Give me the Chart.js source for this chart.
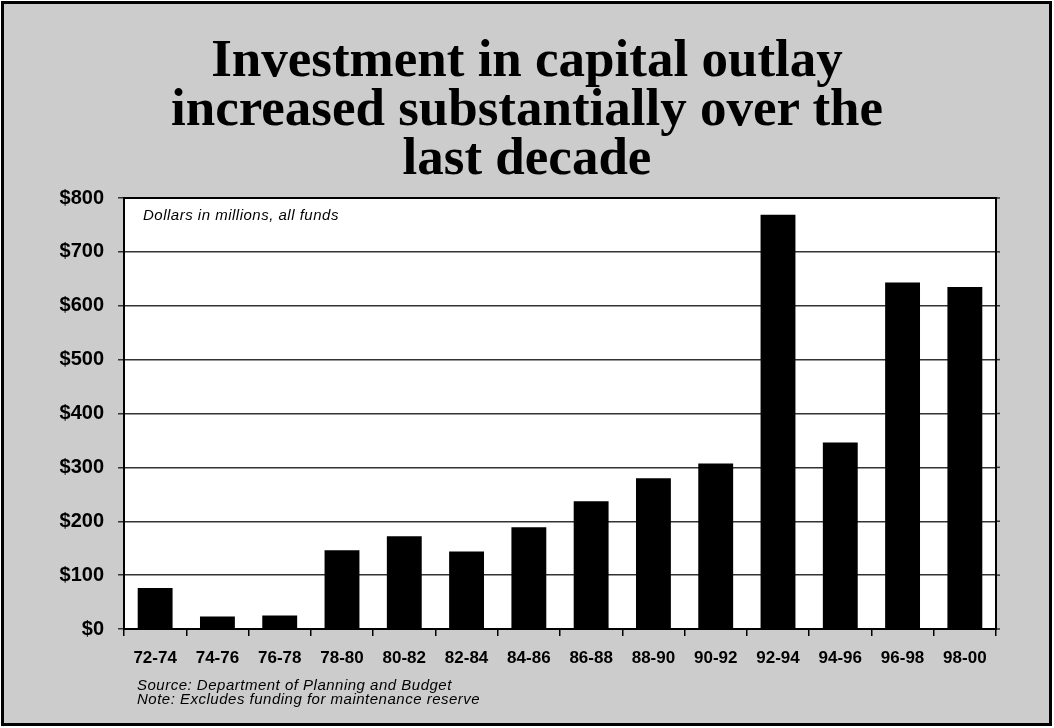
<!DOCTYPE html>
<html>
<head>
<meta charset="utf-8">
<script src="https://cdn.jsdelivr.net/npm/chart.js@4"></script>
<style>
  html, body { margin: 0; padding: 0; background: #fff; }
  #page { position: relative; width: 1054px; height: 728px; overflow: hidden; }
  #frame { position: absolute; left: 1px; top: 1px; width: 1051px; height: 725px;
    box-sizing: border-box; border: 3px solid #000; background: #cccccc; }
  #title { position: absolute; left: 0; top: 34px; width: 1054px; text-align: center;
    font-family: "Liberation Serif", "Times New Roman", serif; font-weight: bold;
    font-size: 53px; line-height: 49px; color: #000; }
  .note { position: absolute; font-family: "Liberation Sans", Arial, sans-serif;
    font-style: italic; font-size: 15px; letter-spacing: 0.5px; color: #000; white-space: nowrap; }
  #unit { left: 143px; top: 206px; }
  #src { left: 137px; top: 678px; line-height: 14px; }
  canvas { position: absolute; left: 0; top: 0; }
</style>
</head>
<body>
<div id="page">
  <div id="frame"></div>
  <canvas id="myChart" width="1054" height="728"></canvas>
  <div id="title">Investment in capital outlay<br>increased substantially over the<br>last decade</div>
  <div class="note" id="unit">Dollars in millions, all funds</div>
  <div class="note" id="src">Source: Department of Planning and Budget<br>Note: Excludes funding for maintenance reserve</div>
</div>
<script>
(() => {

  const periods = ['72-74', '74-76', '76-78', '78-80', '80-82', '82-84', '84-86',
    '86-88', '88-90', '90-92', '92-94', '94-96', '96-98', '98-00'];
  const outlay = [76, 23, 25, 146, 172, 144, 189, 237, 280, 307, 769, 346, 643, 635];
  const yTicks = [0, 100, 200, 300, 400, 500, 600, 700, 800];

  //white plot area and a frame round it
  const plotFrame = {
    id: 'plotFrame',
    beforeDraw(chart) {
      const { ctx, chartArea: a } = chart;
      ctx.save();
      ctx.fillStyle = '#fff';
      ctx.fillRect(a.left, a.top, a.right - a.left, a.bottom - a.top);
      ctx.restore();
    },
    afterDraw(chart) {
      const { ctx, chartArea: a, scales } = chart;
      ctx.save();
      ctx.strokeStyle = '#333';
      ctx.lineWidth = 1.5;
      //gridlines poke a little past the right edge
      yTicks.forEach(v => {
        const y = scales.y.getPixelForValue(v);
        ctx.beginPath();
        ctx.moveTo(a.right, y);
        ctx.lineTo(a.right + 4, y);
        ctx.stroke();
      });
      ctx.strokeStyle = '#000';
      ctx.lineWidth = 2;
      ctx.strokeRect(a.left, a.top, a.right - a.left, a.bottom - a.top);
      ctx.restore();
    }
  };

  const ctx = document.getElementById('myChart');
  const myChart = new Chart(ctx, {
    type: 'bar',
    data: {
      labels: periods,
      datasets: [{
        data: outlay,
        backgroundColor: '#000',
        borderWidth: 0,
        barPercentage: 0.56,
        categoryPercentage: 1
      }]
    },
    options: {
      responsive: false,
      animation: false,
      layout: { padding: { top: 198, right: 58, left: 0, bottom: 0 } },
      plugins: { legend: { display: false }, tooltip: { enabled: false } },
      scales: {
        x: {
          afterFit: (s) => { s.height = 99; },
          grid: {
            offset: true,
            drawOnChartArea: false,
            color: '#000',
            lineWidth: 1.5,
            tickLength: 7
          },
          border: { color: '#000', width: 2 },
          ticks: {
            color: '#000',
            padding: 12,
            maxRotation: 0,
            font: { family: 'Liberation Sans, Arial, sans-serif', size: 17, weight: 'bold' }
          }
        },
        y: {
          min: 0,
          max: 800,
          afterFit: (s) => { s.width = 124; },
          afterBuildTicks: (s) => { s.ticks = yTicks.map(v => ({ value: v })); },
          grid: { color: '#333', lineWidth: 1.5, tickLength: 6 },
          border: { color: '#000', width: 2 },
          ticks: {
            color: '#000',
            padding: 14,
            font: { family: 'Liberation Sans, Arial, sans-serif', size: 20, weight: 'bold' },
            callback: (v) => '$' + v
          }
        }
      }
    },
    plugins: [plotFrame]
  });

})();
</script>
</body>
</html>
